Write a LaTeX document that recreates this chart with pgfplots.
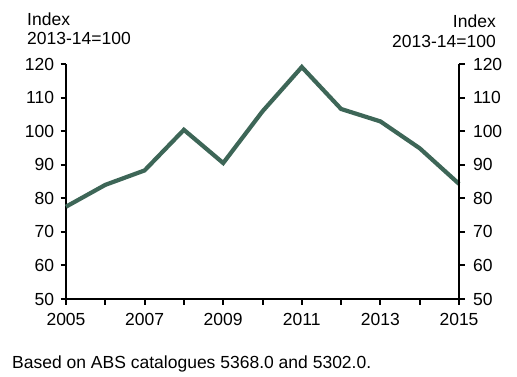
\documentclass[border=0pt]{standalone}
\usepackage{pgfplots}
\pgfplotsset{compat=1.18}
\usepackage{fontspec}
\setmainfont{Liberation Sans}
\definecolor{lineg}{HTML}{3D6657}
\newcommand{\fs}{\fontsize{17.5bp}{20bp}\selectfont}
\begin{document}
\begin{tikzpicture}[x=1bp,y=1bp]
\useasboundingbox (-66,-77) rectangle (451,299);
\begin{axis}[
  at={(0,0)}, anchor=south west,
  scale only axis, width=393bp, height=235bp,
  xmin=2005, xmax=2015, ymin=50, ymax=120,
  axis x line*=bottom, axis y line*=left,
  axis line style={line width=2.4bp, -},
  tick align=outside, major tick length=5.5bp,
  tick style={line width=2bp, black},
  xtick={2005,2006,...,2015},
  xticklabels={2005,,2007,,2009,,2011,,2013,,2015},
  ytick={50,60,...,120},
  /pgf/number format/assume math mode=true,
  /pgf/number format/1000 sep={},
  ticklabel style={font=\fs},
  xticklabel style={yshift=-5bp},
  yticklabel style={xshift=-3bp},
  clip=false,
]
\addplot[lineg, line width=4.2bp] coordinates {
(2005,77.5) (2006,84.0) (2007,88.3) (2008,100.4) (2009,90.5) (2010,105.9)
(2011,119.1) (2012,106.6) (2013,102.9) (2014,94.9) (2015,84.3)};
\end{axis}
\begin{axis}[
  at={(0,0)}, anchor=south west,
  scale only axis, width=393bp, height=235bp,
  xmin=2005, xmax=2015, ymin=50, ymax=120,
  axis y line*=right, axis x line=none,
  axis line style={line width=2.4bp, -},
  tick align=outside, major tick length=5.5bp,
  tick style={line width=2bp, black},
  ytick={50,60,...,120},
  /pgf/number format/assume math mode=true,
  ticklabel style={font=\fs},
  yticklabel style={xshift=5bp},
]
\end{axis}
\node[anchor=base west, font=\fs, inner sep=0pt] at (-39,274) {Index};
\node[anchor=base west, font=\fs, inner sep=0pt] at (-39,255) {2013-14=100};
\node[anchor=base east, font=\fs, inner sep=0pt] at (430,272) {Index};
\node[anchor=base east, font=\fs, inner sep=0pt] at (430,252) {2013-14=100};
\node[anchor=base west, font=\fs, inner sep=0pt] at (-54,-69) {Based on ABS catalogues 5368.0 and 5302.0.};
\end{tikzpicture}
\end{document}
